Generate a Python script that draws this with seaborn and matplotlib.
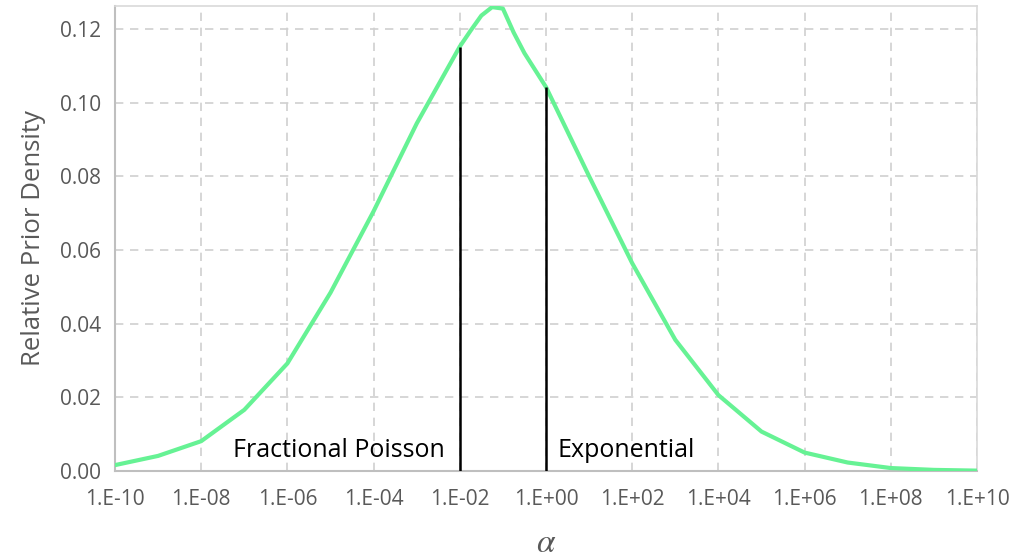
import numpy as np
import pandas as pd
import matplotlib
matplotlib.use("Agg")
import matplotlib.pyplot as plt
import seaborn as sns
from matplotlib.ticker import FixedLocator, FixedFormatter, NullLocator

# ---- data ----
log_alpha = [-10, -9, -8, -7, -6, -5, -4, -3, -2, -1.75, -1.5, -1.25, -1, -0.75, -0.5,
             0, 1, 2, 3, 4, 5, 6, 7, 8, 9, 10]
density = [0.0016, 0.0041, 0.0081, 0.0166, 0.0292, 0.0484, 0.0705, 0.0943,
           0.1152, 0.1195, 0.1236, 0.1259, 0.1255, 0.1190, 0.1134,
           0.1042, 0.0800, 0.0564, 0.0356, 0.0206, 0.0107, 0.0050, 0.0023,
           0.0008, 0.0003, 0.0001]
boundary_alpha = [1e-2, 1e0]
boundary_density = [0.1152, 0.1042]
boundary_labels = ["Fractional Poisson", "Exponential"]
x_tick_values = [1e-10, 1e-8, 1e-6, 1e-4, 1e-2, 1e0, 1e2, 1e4, 1e6, 1e8, 1e10]
x_tick_labels = ["1.E-10", "1.E-08", "1.E-06", "1.E-04", "1.E-02", "1.E+00",
                 "1.E+02", "1.E+04", "1.E+06", "1.E+08", "1.E+10"]
y_tick_values = [0.00, 0.02, 0.04, 0.06, 0.08, 0.10, 0.12]
y_tick_labels = ["0.00", "0.02", "0.04", "0.06", "0.08", "0.10", "0.12"]

df = pd.DataFrame({"alpha": [10.0 ** v for v in log_alpha], "density": density})

sns.set_theme(style="white")
plt.rcParams["font.family"] = ["Open Sans", "DejaVu Sans"]
plt.rcParams["mathtext.fontset"] = "stix"

fig = plt.figure(figsize=(10.15, 5.6), dpi=100)
ax = fig.add_axes([115 / 1015, 1 - 471 / 560, (977 - 115) / 1015, (471 - 6) / 560])

sns.lineplot(data=df, x="alpha", y="density", ax=ax, color="#66F294",
             linewidth=3.0, zorder=3, sort=True)
ax.set_xscale("log")
ax.set_xlim(1e-10, 1e10)
ax.set_ylim(0, 0.1262)

ax.vlines(boundary_alpha, 0, boundary_density, color="black", linewidth=1.8, zorder=4)

grid_col = "#D0D0D0"
ax.xaxis.set_major_locator(FixedLocator(x_tick_values))
ax.xaxis.set_major_formatter(FixedFormatter(x_tick_labels))
ax.xaxis.set_minor_locator(NullLocator())
ax.yaxis.set_major_locator(FixedLocator(y_tick_values))
ax.yaxis.set_major_formatter(FixedFormatter(y_tick_labels))
ax.grid(True, which="major", color=grid_col, linestyle=(0, (5, 4)), linewidth=1.2)
ax.set_axisbelow(True)

ax.tick_params(axis="both", length=0, labelsize=15, colors="#595959")
ax.tick_params(axis="x", pad=13)
ax.tick_params(axis="y", pad=10)

for side in ["top", "right"]:
    ax.spines[side].set_color("#D9D9D9")
    ax.spines[side].set_linewidth(1.2)
for side in ["left", "bottom"]:
    ax.spines[side].set_color("#BFBFBF")
    ax.spines[side].set_linewidth(1.5)

ax.set_ylabel("Relative Prior Density", fontsize=18.5, color="#595959", labelpad=10)
ax.set_xlabel(r"$\alpha$", fontsize=24, color="#595959", labelpad=12)

ax.annotate(boundary_labels[0], xy=(boundary_alpha[0], 0), xytext=(-11, 6),
            textcoords="offset points", ha="right", va="bottom", fontsize=18,
            color="black")
ax.annotate(boundary_labels[1], xy=(boundary_alpha[1], 0), xytext=(8, 6),
            textcoords="offset points", ha="left", va="bottom", fontsize=18,
            color="black")

fig.savefig("out.png", dpi=100)
